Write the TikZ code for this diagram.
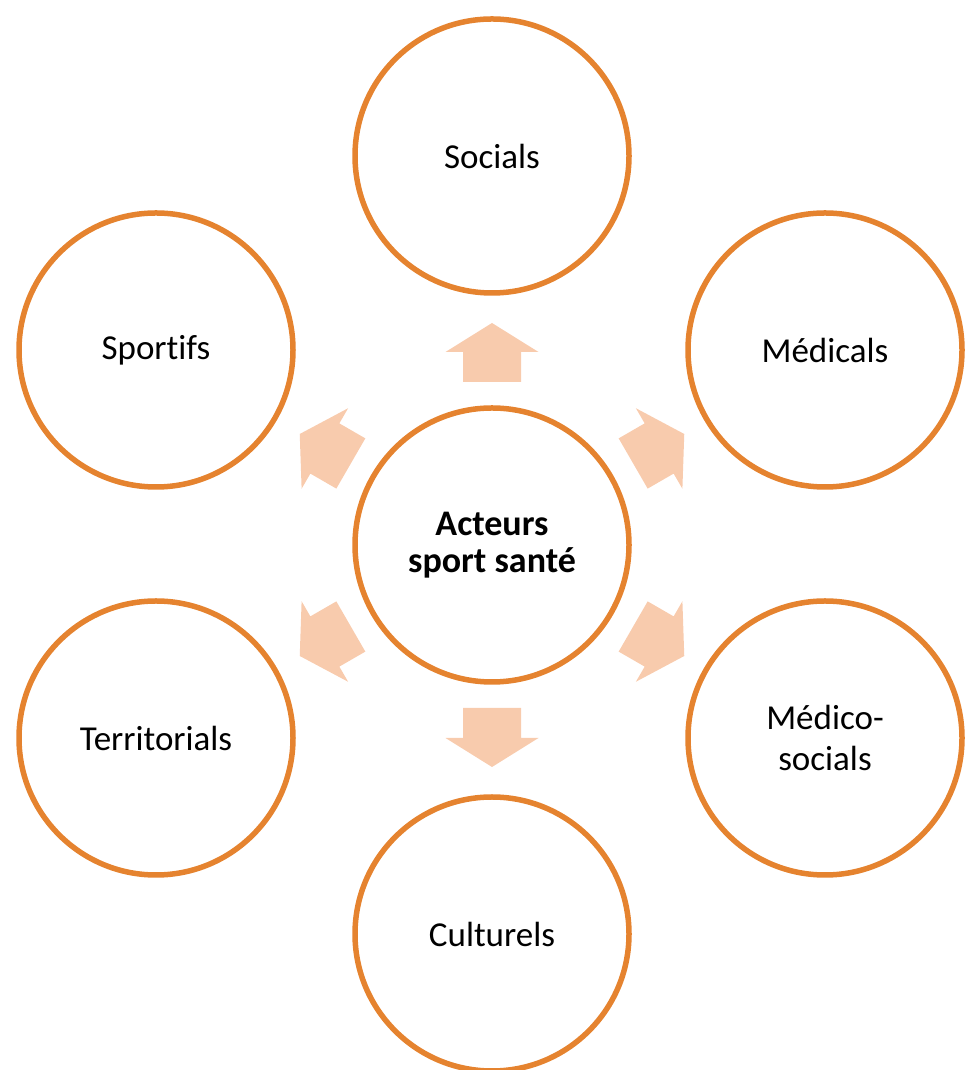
\documentclass[tikz,border=0pt]{standalone}
\usepackage{fontspec}
\setmainfont{Carlito}[Ligatures={NoCommon}]
\definecolor{ringorange}{HTML}{E5832F}
\definecolor{arrowpeach}{HTML}{F8CBAD}
\begin{document}
\begin{tikzpicture}[x=1pt, y=1pt,
  ring/.style={draw=ringorange, line width=5.5pt, circle, minimum size=274pt, inner sep=0pt, align=center, font=\fontsize{35}{41}\selectfont},
  hub/.style={ring, font=\fontsize{36}{37}\selectfont\bfseries},
  blockarrow/.style={fill=arrowpeach}]
\useasboundingbox (0,0) rectangle (964,1070);
\node[hub] (c) at (492,525) {Acteurs\\sport santé};
\node[ring] (soc) at (492,914) {Socials};
\node[ring] (med) at (825,720) {Médicals};
\node[ring] (medsoc) at (825,332) {Médico-\\socials};
\node[ring] (cult) at (492,136) {Culturels};
\node[ring] (terr) at (156,332) {Territorials};
\node[ring] (sport) at (156,720) {Sportifs};
% block arrows out of the hub
\foreach \a in {90,30,-30,-90,-150,150}
  \fill[blockarrow, shift={(c.center)}, rotate=\a] (163,-29) -- (193,-29) -- (193,-46.5) -- (222,0) -- (193,46.5) -- (193,29) -- (163,29) -- cycle;
\end{tikzpicture}
\end{document}
